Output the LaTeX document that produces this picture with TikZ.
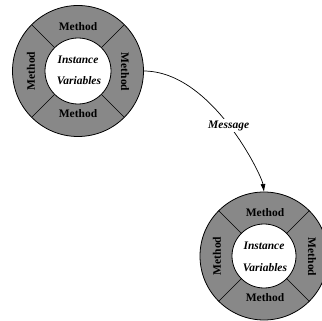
\documentclass[tikz,border=0pt]{standalone}
\usepackage{fontspec}
\setmainfont{Liberation Serif}
\usetikzlibrary{arrows.meta}
\definecolor{wheelgray}{RGB}{136,136,136}
\tikzset{
  outerwheel/.style={circle, draw=black, line width=0.8pt, fill=wheelgray, inner sep=0pt, outer sep=0pt, minimum size=#1},
  innerwheel/.style={circle, draw=black, line width=0.8pt, fill=white, inner sep=0pt, outer sep=0pt, minimum size=#1},
  divider/.style={draw=black, line width=0.7pt},
  lbl/.style={inner sep=0pt, font=\fontsize{11.5}{13}\selectfont\bfseries},
  ilbl/.style={inner sep=0pt, font=\fontsize{11.5}{13}\selectfont\bfseries\itshape},
  msg/.style={draw=black, line width=0.7pt, -{Latex[length=8pt,width=5pt]}}
}
\begin{document}
\begin{tikzpicture}[x=1pt,y=-1pt]
\useasboundingbox (0,0) rectangle (322,321);
\clip (0,0) rectangle (322,321);
% wheel 1
\node[outerwheel=131pt] (o1) at (78,71) {};
\node[innerwheel=66pt] (i1) at (78,71) {};
\foreach \a in {45,135,225,315} { \draw[divider] (i1.\a) -- (o1.\a); }
\node[lbl] (m1t) at (78,27) {Method};
\node[lbl] (m1b) at (78,114) {Method};
\node[lbl, rotate=90] (m1l) at (31,71) {Method};
\node[lbl, rotate=-90] (m1r) at (125,72) {Method};
\node[ilbl] (v1a) at (78,60) {Instance};
\node[ilbl] (v1b) at (79,81) {Variables};
% wheel 2
\node[outerwheel=128pt] (o2) at (264,256) {};
\node[innerwheel=64pt] (i2) at (264,256) {};
\foreach \a in {45,135,225,315} { \draw[divider] (i2.\a) -- (o2.\a); }
\node[lbl] (m2t) at (265,213) {Method};
\node[lbl] (m2b) at (265,298) {Method};
\node[lbl, rotate=90] (m2l) at (217,256) {Method};
\node[lbl, rotate=-90] (m2r) at (312,257) {Method};
\node[ilbl] (v2a) at (264,246) {Instance};
\node[ilbl] (v2b) at (265,268) {Variables};
% message
\draw[msg] (o1.east) .. controls (212,71) and (262,176) .. node[ilbl, fill=white, inner sep=1.5pt, pos=0.5] (ml) {Message} (o2.north);
\end{tikzpicture}
\end{document}
